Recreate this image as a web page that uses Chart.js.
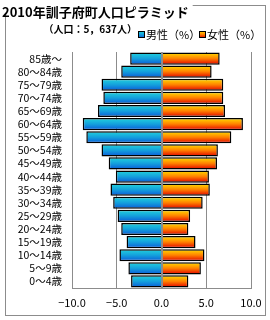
<!DOCTYPE html>
<html>
<head>
<meta charset="utf-8">
<script src="https://cdn.jsdelivr.net/npm/chart.js@4"></script>
<style>
  html, body { margin: 0; padding: 0; background: #fff; }
  #wrap { width: 270px; height: 320px; }
</style>
</head>
<body>
<div id="wrap"><canvas id="piramide"></canvas></div>
<script>
// dados (% por sexo), da faixa 0～4 até 85～
const faixas = ["0～4歳", "5～9歳", "10～14歳", "15～19歳", "20～24歳", "25～29歳", "30～34歳", "35～39歳", "40～44歳",
    "45～49歳", "50～54歳", "55～59歳", "60～64歳", "65～69歳", "70～74歳", "75～79歳", "80～84歳", "85歳～"];
const homens = [3.4, 3.7, 4.7, 3.9, 4.5, 4.9, 5.4, 5.7, 5.1, 5.9, 6.7, 8.4, 8.8, 7.1, 6.5, 6.7, 4.5, 3.5];
const mulheres = [3.0, 4.4, 4.8, 3.8, 3.0, 3.2, 4.6, 5.4, 5.3, 6.2, 6.3, 7.8, 9.1, 7.1, 6.9, 6.9, 5.6, 6.5];
const titulo = "2010年訓子府町人口ピラミッド";
const subtitulo = "（人口：5，637人）";
const legendaHomem = "男性（%）";
const legendaMulher = "女性（%）";

const FONTE = '"Noto Sans CJK JP", "Noto Sans", sans-serif';
const coresHomem = ["#22d4dc", "#14a0dc", "#0a5ad8"];
const coresMulher = ["#ffe000", "#ff8000", "#e00000"];

function gradiente(ctx, y0, y1, cores) {
    const g = ctx.createLinearGradient(0, y0, 0, y1);
    g.addColorStop(0, cores[0]);
    g.addColorStop(0.5, cores[1]);
    g.addColorStop(1, cores[2]);
    return g;
}

// gradiente vertical para cada barra
function corBarra(cores) {
    return function (context) {
        const chart = context.chart;
        const escala = chart.scales && chart.scales.y;
        if (!escala || context.dataIndex === undefined || !escala.height) return cores[1];
        const centro = escala.getPixelForValue(context.dataIndex);
        const meia = escala.height / faixas.length * 0.46;
        return gradiente(chart.ctx, centro - meia, centro + meia, cores);
    };
}

// moldura, título, subtítulo, legenda e linha do zero
const decoracao = {
    id: "decoracao",
    beforeDraw(chart) {
        const ctx = chart.ctx;
        ctx.save();
        ctx.strokeStyle = "#8c8c8c";
        ctx.lineWidth = 1;
        ctx.strokeRect(5.5, 5.5, 260, 310);
        ctx.font = "bold 13px " + FONTE;
        const w = ctx.measureText(titulo).width;
        ctx.fillStyle = "#fff";
        ctx.fillRect(0, 0, w + 6, 14);
        ctx.fillStyle = "#000";
        ctx.textBaseline = "middle";
        ctx.fillText(titulo, 2, 12);
        ctx.font = "bold 10px " + FONTE;
        ctx.textAlign = "right";
        ctx.fillText(subtitulo, 137, 29);
        ctx.textAlign = "left";
        ctx.font = "11px " + FONTE;
        const itens = [[legendaHomem, coresHomem, 138], [legendaMulher, coresMulher, 199]];
        itens.forEach(item => {
            const x = item[2];
            ctx.fillStyle = gradiente(ctx, 31, 38, item[1]);
            ctx.fillRect(x, 31, 7, 7);
            ctx.strokeStyle = "#000";
            ctx.strokeRect(x + 0.5, 31.5, 6, 6);
            ctx.fillStyle = "#000";
            ctx.fillText(item[0], x + 8, 35);
        });
        ctx.restore();
    },
    afterDatasetsDraw(chart) {
        const ctx = chart.ctx;
        const x = Math.round(chart.scales.x.getPixelForValue(0)) + 0.5;
        ctx.save();
        ctx.strokeStyle = "#8c8c8c";
        ctx.lineWidth = 1;
        ctx.beginPath();
        ctx.moveTo(x, chart.chartArea.top);
        ctx.lineTo(x, chart.chartArea.bottom);
        ctx.stroke();
        ctx.restore();
    }
};

function formatarTick(valor) {
    const txt = Math.abs(valor).toFixed(1);
    return valor < 0 ? "−" + txt : txt;
}

function criarPiramide() {
    const ctx = document.getElementById("piramide").getContext("2d");

    new Chart(ctx, {
        type: "bar",
        data: {
            labels: faixas,
            datasets: [{
                label: legendaHomem,
                data: homens.map(v => -v),
                backgroundColor: corBarra(coresHomem),
                borderColor: "#000",
                borderWidth: 1.5,
            }, {
                label: legendaMulher,
                data: mulheres,
                backgroundColor: corBarra(coresMulher),
                borderColor: "#000",
                borderWidth: 1.5,
            }],
        },
        options: {
            indexAxis: "y",
            responsive: true,
            maintainAspectRatio: false,
            animation: false,
            layout: { padding: { left: 0, right: 19, top: 52, bottom: 0 } },
            datasets: {
                bar: { barPercentage: 0.93, categoryPercentage: 1 }
            },
            plugins: {
                legend: { display: false },
                title: { display: false },
                tooltip: { enabled: false },
            },
            scales: {
                x: {
                    stacked: true,
                    min: -10,
                    max: 10,
                    ticks: {
                        stepSize: 5,
                        padding: 8,
                        color: "#000",
                        font: { family: FONTE, size: 11 },
                        callback: formatarTick,
                    },
                    grid: { color: "#8c8c8c", drawTicks: false },
                    border: { color: "#8c8c8c" },
                    afterFit: s => { s.height = 32; },
                },
                y: {
                    stacked: true,
                    reverse: true,
                    ticks: {
                        autoSkip: false,
                        padding: 10,
                        color: "#000",
                        font: { family: FONTE, size: 10.5 },
                    },
                    grid: { display: false, drawTicks: false },
                    border: { color: "#8c8c8c" },
                    afterFit: s => { s.width = 72; },
                },
            },
        },
        plugins: [decoracao],
    });
}

criarPiramide();
</script>
</body>
</html>
